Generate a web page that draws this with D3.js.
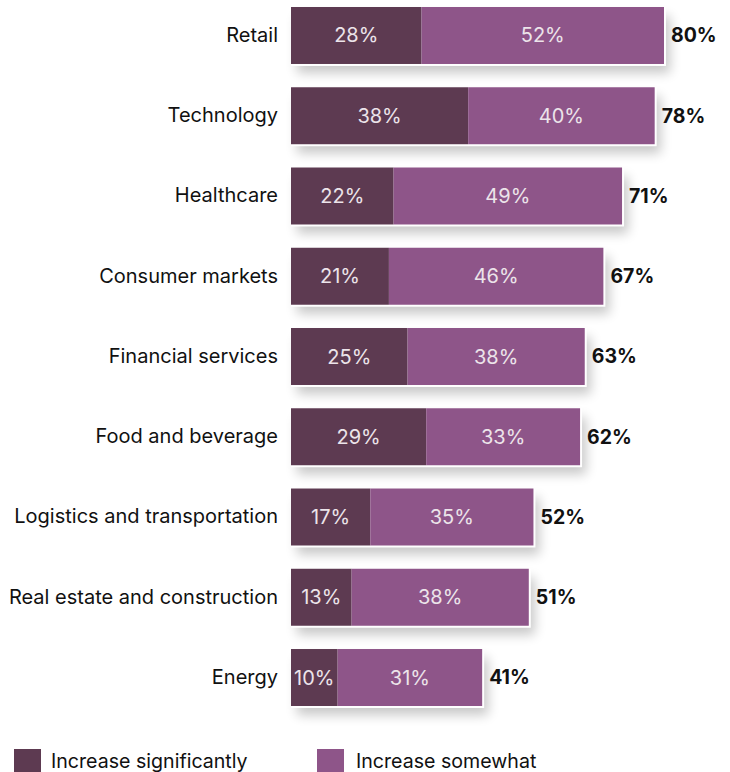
<!DOCTYPE html>
<html><head><meta charset="utf-8">
<script src="https://cdn.jsdelivr.net/npm/d3@7"></script>
<style>body{margin:0;background:#fff;} svg{display:block;}</style>
</head><body>
<svg id="chart" width="730" height="772"></svg>
<script>
const categories = ["Retail","Technology","Healthcare","Consumer markets","Financial services","Food and beverage","Logistics and transportation","Real estate and construction","Energy"];
const significantly = [28,38,22,21,25,29,17,13,10];
const somewhat = [52,40,49,46,38,33,35,38,31];
const seriesNames = ["Increase significantly","Increase somewhat"];
const colors = ["#5d3a51","#8e5589"];

const svg = d3.select("#chart");
const font = "Inter, Roboto, sans-serif";
const x0 = 291;
const x = d3.scaleLinear().domain([0,80]).range([x0, 664]);
const y = d3.scaleBand().domain(categories).range([7,706]).paddingInner(0.29).paddingOuter(0);

const defs = svg.append("defs");
const f = defs.append("filter").attr("id","sh").attr("x","-20%").attr("y","-50%").attr("width","150%").attr("height","250%");
f.append("feGaussianBlur").attr("in","SourceAlpha").attr("stdDeviation",6).attr("result","b");
f.append("feOffset").attr("in","b").attr("dx",6).attr("dy",9).attr("result","o");
f.append("feComponentTransfer").attr("in","o").append("feFuncA").attr("type","linear").attr("slope",0.22);

const data = categories.map((c,i)=>({c, a:significantly[i], b:somewhat[i], t:significantly[i]+somewhat[i]}));

const g = svg.append("g");
g.selectAll("rect.sh").data(data).join("rect").attr("class","sh")
  .attr("x", x(0)).attr("y", d=>y(d.c)).attr("width", d=>x(d.t)-x(0)).attr("height", y.bandwidth())
  .attr("fill","#000").attr("filter","url(#sh)");
g.selectAll("rect.wb").data(data).join("rect").attr("class","wb")
  .attr("x", x(0)).attr("y", d=>y(d.c)).attr("width", d=>x(d.t)-x(0)+2).attr("height", y.bandwidth()+2)
  .attr("fill","#fff");
g.selectAll("rect.a").data(data).join("rect").attr("class","a")
  .attr("x", x(0)).attr("y", d=>y(d.c)).attr("width", d=>x(d.a)-x(0)).attr("height", y.bandwidth()).attr("fill", colors[0]);
g.selectAll("rect.b").data(data).join("rect").attr("class","b")
  .attr("x", d=>x(d.a)).attr("y", d=>y(d.c)).attr("width", d=>x(d.t)-x(d.a)).attr("height", y.bandwidth()).attr("fill", colors[1]);

const mid = d=>y(d.c)+y.bandwidth()/2;
g.selectAll("text.la").data(data).join("text").attr("class","la")
  .attr("x", d=>(x(0)+x(d.a))/2).attr("y", mid).attr("dy","0.35em").attr("text-anchor","middle")
  .attr("font-family",font).attr("font-size",20).attr("fill","#ece4ea").text(d=>d.a+"%");
g.selectAll("text.lb").data(data).join("text").attr("class","lb")
  .attr("x", d=>(x(d.a)+x(d.t))/2).attr("y", mid).attr("dy","0.35em").attr("text-anchor","middle")
  .attr("font-family",font).attr("font-size",20).attr("fill","#ece4ea").text(d=>d.b+"%");
g.selectAll("text.lt").data(data).join("text").attr("class","lt")
  .attr("x", d=>x(d.t)+7).attr("y", mid).attr("dy","0.35em")
  .attr("font-family",font).attr("font-size",19.5).attr("font-weight",700).attr("fill","#111").text(d=>d.t+"%");

const ax = svg.append("g").attr("transform",`translate(${x0-13},0)`)
  .call(d3.axisLeft(y).tickSize(0).tickPadding(0));
ax.select(".domain").remove();
ax.selectAll("text").attr("font-family",font).attr("font-size",20).attr("fill","#111");

const lg = svg.append("g");
const lx = [14, 317];
const tx = [51, 356];
seriesNames.forEach((n,i)=>{
  lg.append("rect").attr("x",lx[i]).attr("y",749).attr("width",27).attr("height",24).attr("fill",colors[i]);
  lg.append("text").attr("x",tx[i]).attr("y",768)
    .attr("font-family",font).attr("font-size",19.6).attr("fill","#111").text(n);
});
</script>
</body></html>
